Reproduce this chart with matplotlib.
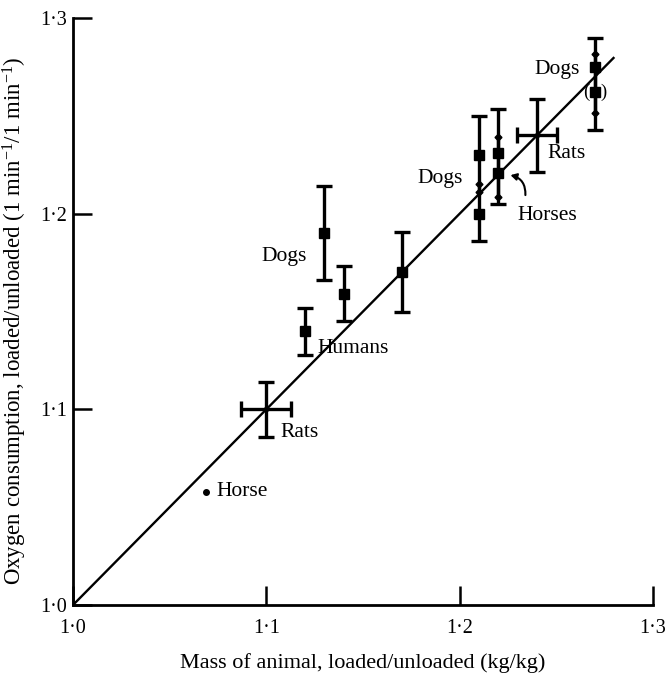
import matplotlib
matplotlib.use('Agg')
import matplotlib.pyplot as plt

plt.rcParams['font.family'] = ['Liberation Serif', 'DejaVu Serif']
plt.rcParams['mathtext.fontset'] = 'custom'
plt.rcParams['mathtext.rm'] = 'Liberation Serif'
plt.rcParams['mathtext.it'] = 'Liberation Serif:italic'

# ---- data ----
sq_x = [1.12, 1.13, 1.14, 1.17, 1.21, 1.21, 1.22, 1.22, 1.27, 1.27]
sq_y = [1.14, 1.19, 1.159, 1.17, 1.230, 1.200, 1.231, 1.221, 1.275, 1.262]
sq_err_hi = [0.012, 0.024, 0.014, 0.0204, 0.020, 0.015, 0.0225, 0.018, 0.015, 0.0195]
sq_err_lo = [0.012, 0.024, 0.014, 0.0204, 0.019, 0.014, 0.0225, 0.016, 0.0235, 0.019]

rat_x = [1.10, 1.24]
rat_y = [1.10, 1.24]
rat_xerr = [0.013, 0.0105]
rat_yerr = [0.014, 0.0187]

horse_x = [1.069]
horse_y = [1.058]

line_x = [1.0, 1.28]
line_y = [1.0, 1.28]

ticks = [1.0, 1.1, 1.2, 1.3]
tick_labels = ['1·0', '1·1', '1·2', '1·3']

fig = plt.figure(figsize=(6.67, 6.74), dpi=100)
ax = fig.add_axes([73/667, 1-605/674, 580/667, 587/674])

ax.plot(line_x, line_y, color='black', lw=1.7, solid_capstyle='butt', zorder=2)

# square points with vertical error bars
ax.errorbar(sq_x, sq_y, yerr=[sq_err_lo, sq_err_hi], fmt='s', color='black', ms=7,
            elinewidth=2.4, capsize=0, zorder=3)
for x, y, lo, hi in zip(sq_x, sq_y, sq_err_lo, sq_err_hi):
    others = [yy for xx, yy in zip(sq_x, sq_y) if xx == x and yy != y]
    top_inner = any(yy > y for yy in others)
    bot_inner = any(yy < y for yy in others)
    for end, inner in ((y + hi, top_inner), (y - lo, bot_inner)):
        if inner:
            ax.plot([x], [end], marker='D', ms=3.5, color='black', zorder=4)
        else:
            ax.plot([x], [end], marker='_', ms=11, mew=2.4, color='black', zorder=4)

# rats: crosses
ax.errorbar(rat_x, rat_y, xerr=rat_xerr, yerr=rat_yerr, fmt='o', ms=3,
            color='black', elinewidth=2.4, capsize=5.5, capthick=2.4, zorder=3)

# horse
ax.plot(horse_x, horse_y, 'o', color='black', ms=4, zorder=3)

fs = 15.5
ax.text(1.074, 1.058, 'Horse', fontsize=fs, ha='left', va='center')
ax.text(1.1075, 1.088, 'Rats', fontsize=fs, ha='left', va='center')
ax.text(1.1265, 1.131, 'Humans', fontsize=fs, ha='left', va='center')
ax.text(1.0977, 1.178, 'Dogs', fontsize=fs, ha='left', va='center')
ax.text(1.2017, 1.218, 'Dogs', fontsize=fs, ha='right', va='center')
ax.text(1.230, 1.199, 'Horses', fontsize=fs, ha='left', va='center')
ax.text(1.2454, 1.231, 'Rats', fontsize=fs, ha='left', va='center')
ax.text(1.2623, 1.2735, 'Dogs', fontsize=fs, ha='right', va='center')
ax.text(sq_x[9] - 0.0045, sq_y[9], '(', fontsize=fs - 2, ha='center', va='center')
ax.text(sq_x[9] + 0.0045, sq_y[9], ')', fontsize=fs - 2, ha='center', va='center')

ax.annotate('', xy=(1.2263, 1.2197), xytext=(1.234, 1.2095),
            arrowprops=dict(arrowstyle='-|>,head_length=0.35,head_width=0.2',
                            connectionstyle='arc3,rad=0.4', lw=1.5,
                            color='black', shrinkA=0, shrinkB=0))

ax.set_xlim(1.0, 1.3)
ax.set_ylim(1.0, 1.3)
for s in ('top', 'right'):
    ax.spines[s].set_visible(False)
for s in ('left', 'bottom'):
    ax.spines[s].set_linewidth(2.0)
ax.set_xticks(ticks)
ax.set_xticklabels(tick_labels)
ax.set_yticks(ticks)
ax.set_yticklabels(tick_labels)
ax.tick_params(direction='in', length=14, width=1.8, labelsize=14.5)
ax.tick_params(axis='x', pad=10)
ax.tick_params(axis='y', pad=4)

ax.set_xlabel('Mass of animal, loaded/unloaded (kg/kg)', fontsize=16, labelpad=11)
fig.text(15/667, 1 - 321/674,
         'Oxygen consumption, loaded/unloaded (1 min$^{-1}$/1 min$^{-1}$)',
         rotation=90, fontsize=16.5, ha='center', va='center')

fig.savefig('out.png', dpi=100)
